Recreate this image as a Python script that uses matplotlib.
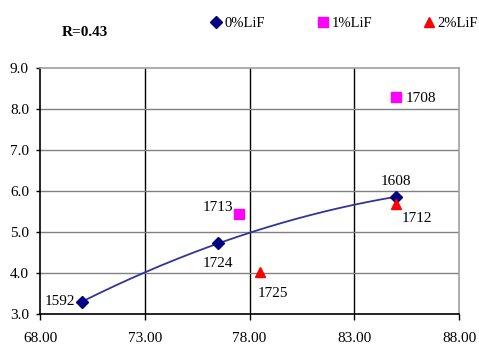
import numpy as np
import matplotlib
matplotlib.use("Agg")
import matplotlib.pyplot as plt
from matplotlib.lines import Line2D

plt.rcParams['font.family'] = ['Liberation Serif', 'DejaVu Serif']

# 0% LiF series
x0 = [70.0, 76.5, 85.0]
y0 = [3.30, 4.72, 5.86]
lab0 = ["1592", "1724", "1608"]
# 1% LiF series
x1 = [77.5, 85.0]
y1 = [5.43, 8.30]
lab1 = ["1713", "1708"]
# 2% LiF series
x2 = [78.5, 85.0]
y2 = [4.03, 5.68]
lab2 = ["1725", "1712"]

xticks = [68, 73, 78, 83, 88]
yticks = [3, 4, 5, 6, 7, 8, 9]

fig = plt.figure(figsize=(4.79, 3.47), dpi=100)
ax = fig.add_axes([40/479, 33/347, 419/479, 246/347])

ax.set_xlim(68, 88)
ax.set_ylim(3, 9)
ax.set_xticks(xticks)
ax.set_xticklabels([f"{v:.2f}" for v in xticks])
ax.set_yticks(yticks)
ax.set_yticklabels([f"{v:.1f}" for v in yticks])
ax.tick_params(labelsize=11, direction='out', width=1, color='black')
ax.tick_params(axis='x', length=4, pad=9)
ax.tick_params(axis='y', length=3, pad=5)

for v in xticks[1:-1]:
    ax.axvline(v, color='black', lw=1, zorder=1)
for v in yticks[1:-1]:
    ax.axhline(v, color='#808080', lw=1, zorder=1)

for s in ['left', 'bottom']:
    ax.spines[s].set_color('black')
    ax.spines[s].set_linewidth(1.2)
for s in ['top', 'right']:
    ax.spines[s].set_color('#a0a0a0')
    ax.spines[s].set_linewidth(1.2)

# second-order trend through the 0% LiF series
coef = np.polyfit(x0, y0, 2)
xs = np.linspace(min(x0), max(x0), 200)
ax.plot(xs, np.polyval(coef, xs), color='#3333a0', lw=1.3, zorder=2)

ax.plot(x0, y0, 'D', color='#000080', ms=6.5, zorder=3, clip_on=False)
ax.plot(x1, y1, 's', color='#ff00ff', ms=7, zorder=3, clip_on=False)
ax.plot(x2, y2, '^', color='#ff0000', ms=7.5, zorder=3, clip_on=False)

fs = 11
offsets0 = [(-5, 0, 'right', 'center'), (0, -10, 'center', 'top'), (0, 6, 'center', 'bottom')]
for x, y, t, (dx, dy, ha, va) in zip(x0, y0, lab0, offsets0):
    ax.annotate(t, (x, y), xytext=(dx, dy), textcoords='offset points', ha=ha, va=va, fontsize=fs)
offsets1 = [(-4, 0, 'right', 'bottom'), (7, -1, 'left', 'center')]
for x, y, t, (dx, dy, ha, va) in zip(x1, y1, lab1, offsets1):
    ax.annotate(t, (x, y), xytext=(dx, dy), textcoords='offset points', ha=ha, va=va, fontsize=fs)
offsets2 = [(-2, -11, 'left', 'top'), (4, -6, 'left', 'top')]
for x, y, t, (dx, dy, ha, va) in zip(x2, y2, lab2, offsets2):
    ax.annotate(t, (x, y), xytext=(dx, dy), textcoords='offset points', ha=ha, va=va, fontsize=fs)

fig.text(62/479, 1 - 33/347, "R=0.43", fontsize=11, fontweight='bold', va='center', ha='left')

# legend entries, one per series, placed across the top
entries = [
    (Line2D([], [], ls='', marker='D', color='#000080', ms=6), "0%LiF", 210),
    (Line2D([], [], ls='', marker='s', color='#ff00ff', ms=7), "1%LiF", 317),
    (Line2D([], [], ls='', marker='^', color='#ff0000', ms=7.5), "2%LiF", 423),
]
for h, name, px in entries:
    leg = fig.legend([h], [name], loc='center left', bbox_to_anchor=(px/479, 1 - 23/347),
                     frameon=False, fontsize=10.5, handlelength=0.8, handletextpad=0.2,
                     borderpad=0, borderaxespad=0)

fig.savefig("out.png", dpi=100)
